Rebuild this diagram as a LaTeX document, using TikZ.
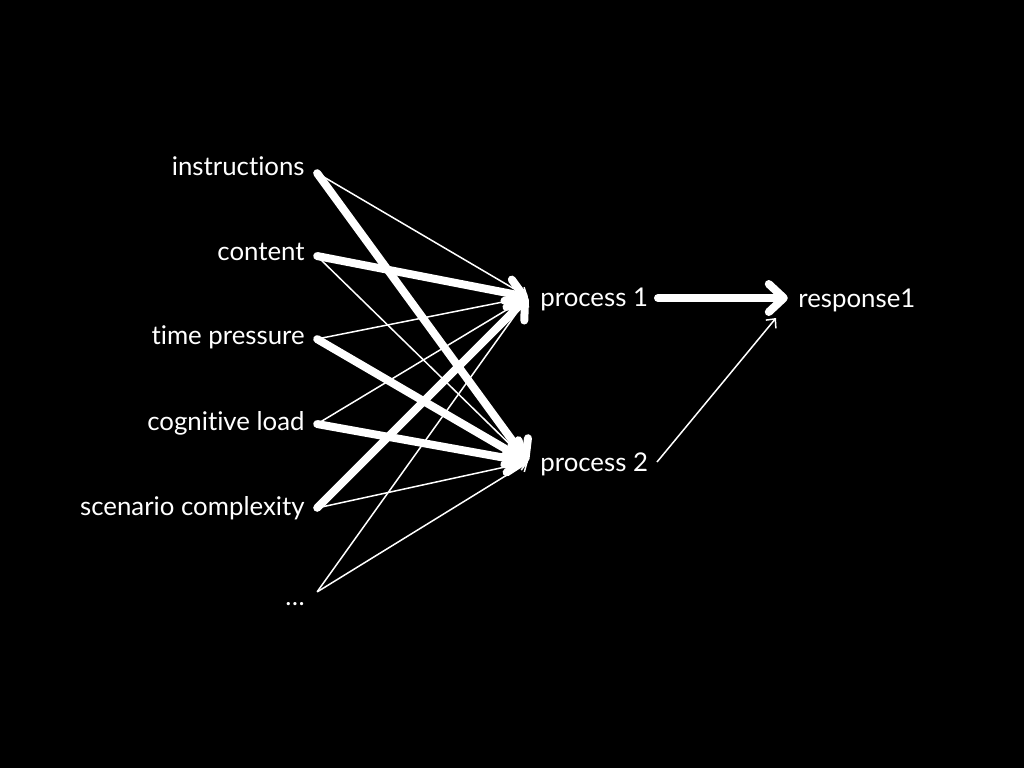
\documentclass[tikz,border=0pt]{standalone}
\usepackage{fontspec}
\setmainfont{Lato}[RawFeature={-liga}]
\usetikzlibrary{arrows.meta}
\begin{document}
\begin{tikzpicture}[x=1pt,y=-1pt,
  lab/.style={text=white,font=\fontsize{25.8}{30}\selectfont,inner sep=0pt},
  pt/.style={inner sep=0pt,minimum size=0pt},
  thin/.style={draw=white,line width=1.5pt,-{Straight Barb[length=7pt,width=13pt]}},
  heavy/.style={draw=white,line width=8pt,line cap=round,-{Straight Barb[length=15pt,width=28pt,round]}}]
\fill[black] (0,0) rectangle (1024,768);
\useasboundingbox (0,0) rectangle (1024,768);
% left inputs
\node[pt,label={[lab,xshift=-12pt,yshift=7pt]left:instructions}] (ins) at (317,173) {};
\node[pt,label={[lab,xshift=-12pt,yshift=4pt]left:content}] (con) at (317,256) {};
\node[pt,label={[lab,xshift=-12pt,yshift=2pt]left:time pressure}] (tim) at (317,339) {};
\node[pt,label={[lab,xshift=-12pt,yshift=1pt]left:cognitive load}] (cog) at (317,424) {};
\node[pt,label={[lab,xshift=-12pt,yshift=0pt]left:scenario complexity}] (sce) at (317,508) {};
\node[pt,label={[lab,xshift=-12pt,yshift=-12pt]left:\dots}] (dot) at (317,592) {};
% processes
\node[pt,label={[lab,xshift=12pt,yshift=-2pt]right:process 1}] (p1) at (528,297) {};
\node[pt,label={[lab,xshift=12pt,yshift=-2pt]right:process 2}] (p2) at (528,462) {};
\node[pt,label={[lab,xshift=10pt,yshift=-2pt]right:response1}] (r) at (788,298) {};
\coordinate (p1o) at (658,298);
\coordinate (p2o) at (657,462);
\coordinate (rin) at (776,318);
% connectors
\draw[thin] (ins) -- (p1);
\draw[thin] (con) -- (p2);
\draw[thin] (tim) -- (p1);
\draw[thin] (cog) -- (p1);
\draw[thin] (sce) -- (p2);
\draw[thin] (dot) -- (p1);
\draw[thin] (dot) -- (p2);
\draw[heavy] (ins) -- (p2);
\draw[heavy] (con) -- (p1);
\draw[heavy] (tim) -- (p2);
\draw[heavy] (cog) -- (p2);
\draw[heavy] (sce) -- (p1);
\draw[heavy] (p1o) -- (r);
\draw[thin] (p2o) -- (rin);
\end{tikzpicture}
\end{document}
